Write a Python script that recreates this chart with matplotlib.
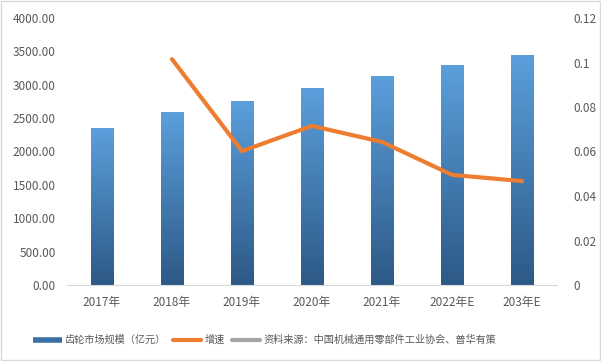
import matplotlib.pyplot as plt
import matplotlib.patches as mpatches
from matplotlib.lines import Line2D
from matplotlib.colors import LinearSegmentedColormap
import numpy as np

plt.rcParams['font.family'] = ['Noto Sans CJK SC', 'DejaVu Sans']

years = ['2017年', '2018年', '2019年', '2020年', '2021年', '2022年E', '203年E']
market_size = [2350, 2590, 2755, 2950, 3130, 3295, 3445]
growth = [None, 0.1015, 0.0602, 0.0715, 0.0643, 0.0495, 0.0467]

bar_label = '齿轮市场规模（亿元）'
line_label = '增速'
source_label = '资料来源：中国机械通用零部件工业协会、普华有策'

tick_color = '#595959'
fig = plt.figure(figsize=(6.01, 3.61), dpi=100)
ax = fig.add_axes([67 / 601, 1 - 285 / 361, 490 / 601, 267 / 361])
ax2 = ax.twinx()

x = np.arange(len(years))
width = 0.32
bars = ax.bar(x, market_size, width=width, color='none', zorder=2)

# vertical gradient fill for each bar (light on top, dark at bottom)
grad = np.linspace(0, 1, 256).reshape(-1, 1)
cmap = LinearSegmentedColormap.from_list('g', ['#2D5986', '#5B9FDC'])
for b in bars:
    x0, y0 = b.get_x(), b.get_y()
    w, h = b.get_width(), b.get_height()
    ax.imshow(grad, extent=[x0, x0 + w, y0, y0 + h], origin='lower',
              aspect='auto', cmap=cmap, zorder=2)

ax.set_xlim(-0.5, len(years) - 0.5)
ax.set_ylim(0, 4000)
ax.set_yticks(np.arange(0, 4001, 500))
ax.set_yticklabels([f'{v:.2f}' for v in np.arange(0, 4001, 500)])
ax.set_xticks(x)
ax.set_xticklabels(years)

gx = [i for i, g in enumerate(growth) if g is not None]
gy = [g for g in growth if g is not None]
ax2.plot(gx, gy, color='#ED7D31', linewidth=3, solid_capstyle='round', zorder=3)
ax2.set_ylim(0, 0.12)
ax2.set_yticks([0, 0.02, 0.04, 0.06, 0.08, 0.1, 0.12])
ax2.set_yticklabels(['0', '0.02', '0.04', '0.06', '0.08', '0.1', '0.12'])

for a in (ax, ax2):
    for s in a.spines.values():
        s.set_visible(False)
    a.tick_params(length=0, labelsize=8.5, labelcolor=tick_color)
ax.spines['bottom'].set_visible(True)
ax.spines['bottom'].set_color('#D9D9D9')
ax.tick_params(axis='y', pad=8)
ax.tick_params(axis='x', pad=8)
ax2.tick_params(axis='y', pad=12)

handles = [
    Line2D([], [], color='#3A6FA6', linewidth=4, solid_capstyle='butt', label=bar_label),
    Line2D([], [], color='#ED7D31', linewidth=3, solid_capstyle='round', label=line_label),
    Line2D([], [], color='#A5A5A5', linewidth=3, solid_capstyle='round', label=source_label),
]
fig.legend(handles=handles, loc='center left', bbox_to_anchor=(24 / 601, 1 - 340 / 361),
           ncol=3, frameon=False, fontsize=7.3, labelcolor=tick_color,
           handlelength=2.8, handletextpad=0.3, columnspacing=0.7)

fig.patches.append(mpatches.Rectangle((0.001, 0.002), 0.997, 0.995,
                                      transform=fig.transFigure, fill=False,
                                      edgecolor='#D9D9D9', linewidth=1))

fig.savefig('out.png', dpi=100)
